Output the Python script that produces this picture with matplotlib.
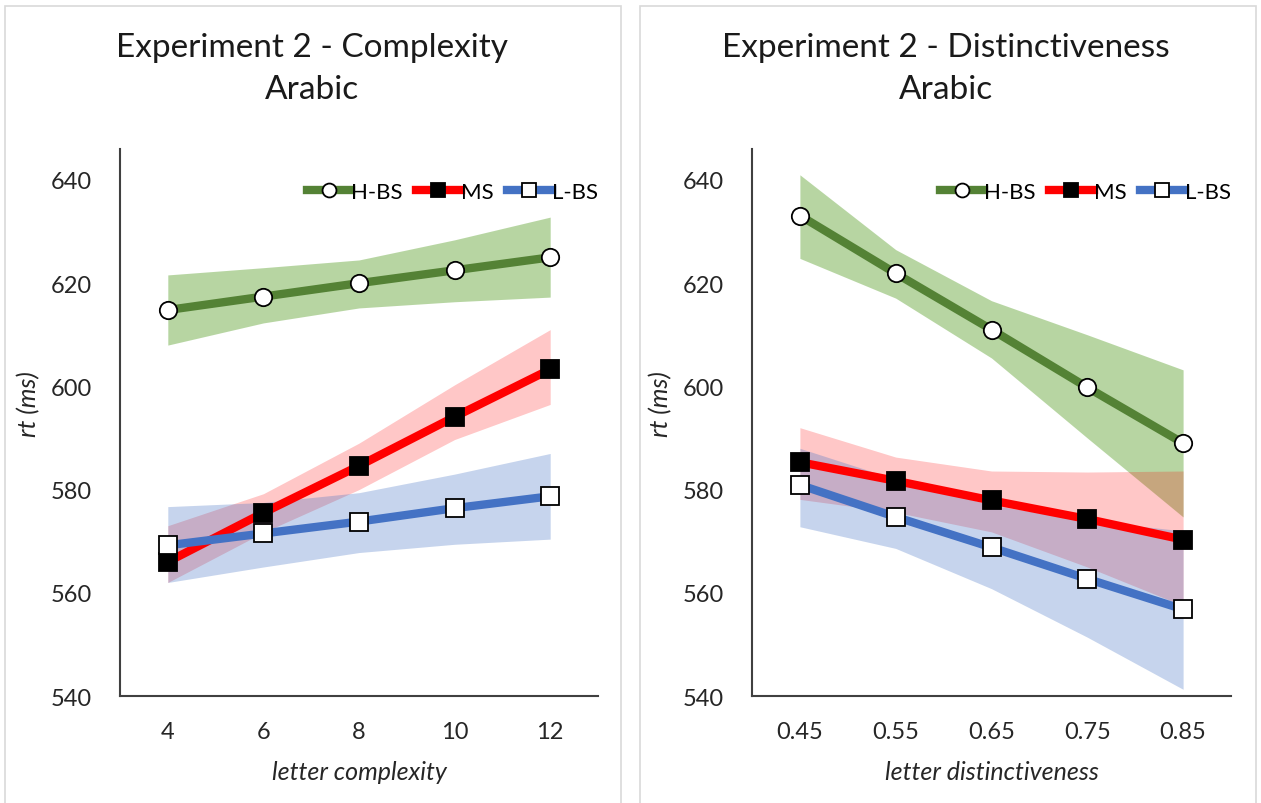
import matplotlib
matplotlib.use("Agg")
import matplotlib.pyplot as plt
from matplotlib.patches import Rectangle

plt.rcParams['font.family'] = ['Lato', 'DejaVu Sans']

# left panel: letter complexity
complexity = [4, 6, 8, 10, 12]
hbs_c = [614.8, 617.4, 620.0, 622.5, 625.0]
hbs_c_lo = [608.0, 612.3, 615.2, 616.4, 617.3]
hbs_c_hi = [621.6, 623.0, 624.5, 628.4, 632.8]
ms_c = [566.0, 575.5, 584.6, 594.1, 603.3]
ms_c_lo = [562.0, 571.7, 580.0, 589.7, 596.5]
ms_c_hi = [573.0, 579.2, 589.0, 600.3, 611.0]
lbs_c = [569.2, 571.5, 573.8, 576.4, 578.7]
lbs_c_lo = [562.0, 565.0, 567.8, 569.4, 570.4]
lbs_c_hi = [576.7, 577.5, 579.4, 583.0, 587.0]

# right panel: letter distinctiveness
distinct = [0.45, 0.55, 0.65, 0.75, 0.85]
hbs_d = [633.1, 621.9, 611.0, 599.8, 589.0]
hbs_d_lo = [624.8, 617.1, 605.5, 590.0, 574.7]
hbs_d_hi = [641.0, 626.5, 616.6, 610.0, 603.2]
ms_d = [585.3, 581.7, 577.9, 574.3, 570.3]
ms_d_lo = [578.1, 575.6, 571.8, 565.0, 557.5]
ms_d_hi = [592.0, 586.3, 583.6, 583.4, 583.6]
lbs_d = [580.9, 574.7, 568.8, 562.7, 556.8]
lbs_d_lo = [572.8, 568.6, 560.8, 551.4, 541.3]
lbs_d_hi = [588.0, 582.0, 577.0, 574.0, 572.0]

yticks = [540, 560, 580, 600, 620, 640]

GREEN, RED, BLUE = '#548235', '#ff0000', '#4472c4'

fig = plt.figure(figsize=(12.61, 8.04), dpi=100)

# panel frames
for x0 in (5, 640):
    fig.patches.append(Rectangle((x0 / 1261, -0.01), 616 / 1261, 1 - 7 / 804 + 0.01,
                                 transform=fig.transFigure, fill=False,
                                 edgecolor='#d9d9d9', linewidth=1.2))


def draw_panel(ax, x, series, xlim, xticklabels, xlabel, title1, title2, xc):
    ax.set_xlim(*xlim)
    ax.set_ylim(540, 646)
    for y, lo, hi, col, band, alpha, marker, mfc in series:
        ax.fill_between(x, lo, hi, color=band, alpha=alpha, linewidth=0, zorder=1)
    handles = []
    for y, lo, hi, col, band, alpha, marker, mfc in series:
        h, = ax.plot(x, y, color=col, linewidth=6, marker=marker, markersize=12.5,
                     markerfacecolor=mfc, markeredgecolor='black', markeredgewidth=1.3,
                     zorder=3)
        handles.append(h)
    ax.legend(handles, ['H-BS', 'MS', 'L-BS'], loc='center right',
              bbox_to_anchor=(1.0, 0.921), ncol=3, frameon=False, fontsize=16,
              handlelength=2.0, handletextpad=0.02, columnspacing=0.6,
              markerscale=0.8, borderaxespad=0, borderpad=0)
    ax.set_yticks(yticks)
    ax.set_xticks(x)
    ax.set_xticklabels(xticklabels)
    ax.tick_params(length=0, labelsize=17, colors='#262626')
    ax.tick_params(axis='y', pad=20)
    ax.tick_params(axis='x', pad=18)
    for s in ('top', 'right'):
        ax.spines[s].set_visible(False)
    for s in ('left', 'bottom'):
        ax.spines[s].set_color('#404040')
        ax.spines[s].set_linewidth(1.5)
    ax.set_xlabel(xlabel, fontsize=18, style='italic', color='#262626')
    ax.xaxis.set_label_coords(0.5, -0.117)
    ax.set_ylabel('rt (ms)', fontsize=18, style='italic', color='#262626')
    ax.yaxis.set_label_coords(-0.167, 0.535)
    fig.text(xc / 1261, 1 - 48 / 804, title1, fontsize=24, ha='center', va='center',
             color='#1a1a1a')
    fig.text(xc / 1261, 1 - 90 / 804, title2, fontsize=24, ha='center', va='center',
             color='#1a1a1a')


ax1 = fig.add_axes([120 / 1261, 107 / 804, 478 / 1261, 547 / 804])
draw_panel(ax1, complexity,
           [(hbs_c, hbs_c_lo, hbs_c_hi, GREEN, '#70ad47', 0.5, 'o', 'white'),
            (ms_c, ms_c_lo, ms_c_hi, RED, '#ff0000', 0.22, 's', 'black'),
            (lbs_c, lbs_c_lo, lbs_c_hi, BLUE, '#4472c4', 0.3, 's', 'white')],
           (3, 13), ['4', '6', '8', '10', '12'], 'letter complexity',
           'Experiment 2 - Complexity', 'Arabic', 312)

ax2 = fig.add_axes([752 / 1261, 107 / 804, 479 / 1261, 547 / 804])
draw_panel(ax2, distinct,
           [(hbs_d, hbs_d_lo, hbs_d_hi, GREEN, '#70ad47', 0.5, 'o', 'white'),
            (ms_d, ms_d_lo, ms_d_hi, RED, '#ff0000', 0.22, 's', 'black'),
            (lbs_d, lbs_d_lo, lbs_d_hi, BLUE, '#4472c4', 0.3, 's', 'white')],
           (0.4, 0.9), ['0.45', '0.55', '0.65', '0.75', '0.85'], 'letter distinctiveness',
           'Experiment 2 - Distinctiveness', 'Arabic', 946)

fig.savefig('out.png', dpi=100, facecolor='white')
